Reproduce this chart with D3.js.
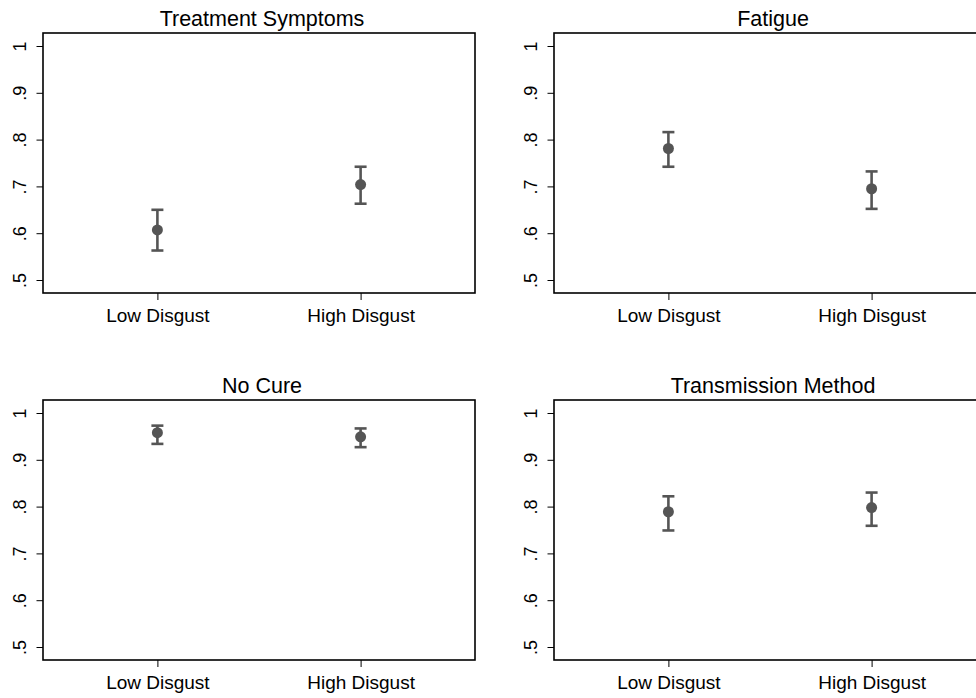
<!DOCTYPE html>
<html>
<head>
<meta charset="utf-8">
<script src="https://cdn.jsdelivr.net/npm/d3@7"></script>
<style>
  body { margin: 0; background: #fff; }
  text { font-family: "Liberation Sans", Arial, sans-serif; fill: #000; }
</style>
</head>
<body>
<div id="chart"></div>
<script>
const panels = ["Treatment Symptoms", "Fatigue", "No Cure", "Transmission Method"];
const groups = ["Low Disgust", "High Disgust"];
const means = [[0.607, 0.704], [0.781, 0.695], [0.958, 0.949], [0.789, 0.798]];
const lower = [[0.563, 0.663], [0.742, 0.652], [0.934, 0.927], [0.749, 0.759]];
const upper = [[0.650, 0.742], [0.816, 0.732], [0.973, 0.967], [0.822, 0.830]];
const yTicks = [0.5, 0.6, 0.7, 0.8, 0.9, 1];

const width = 976, height = 698;
const frameW = 432, frameH = 260;
const origins = [[43, 33], [554, 33], [43, 400], [554, 400]];
const markColor = "#555";

const svg = d3.select("#chart")
  .append("svg")
  .attr("width", width)
  .attr("height", height);

const fmt = v => v === 1 ? "1" : d3.format(".1f")(v).replace(/^0/, "");

panels.forEach((title, i) => {
  const [ox, oy] = origins[i];
  const g = svg.append("g").attr("transform", `translate(${ox},${oy})`);

  const x = d3.scalePoint()
    .domain(groups)
    .range([0, frameW])
    .padding(0.563);

  const y = d3.scaleLinear()
    .domain([0.5, 1])
    .range([247, 13]);

  // frame
  g.append("rect")
    .attr("width", frameW)
    .attr("height", frameH)
    .attr("fill", "none")
    .attr("stroke", "#000")
    .attr("stroke-width", 1.6);

  // y axis, labels turned to read upward
  const yAxis = g.append("g")
    .call(d3.axisLeft(y).tickValues(yTicks).tickFormat(fmt).tickSize(6.5).tickSizeOuter(0));
  yAxis.select(".domain").remove();
  yAxis.selectAll("line").attr("stroke", "#000");
  yAxis.selectAll(".tick text")
    .attr("font-size", 18)
    .attr("x", 0)
    .attr("y", 0)
    .attr("dy", 0)
    .attr("text-anchor", "middle")
    .attr("transform", "translate(-17,0) rotate(-90)");

  // x axis
  const xAxis = g.append("g")
    .attr("transform", `translate(0,${frameH})`)
    .call(d3.axisBottom(x).tickSize(7).tickSizeOuter(0));
  xAxis.select(".domain").remove();
  xAxis.selectAll("line").attr("stroke", "#000");
  xAxis.selectAll("text")
    .attr("font-size", 19)
    .attr("y", 0)
    .attr("dy", 29);

  // title
  g.append("text")
    .attr("x", frameW / 2 + 3)
    .attr("y", -7)
    .attr("text-anchor", "middle")
    .attr("font-size", 21.5)
    .text(title);

  // error bars and points
  groups.forEach((grp, j) => {
    const cx = x(grp);
    const bar = g.append("g")
      .attr("stroke", markColor)
      .attr("stroke-width", 2.6);
    bar.append("line")
      .attr("x1", cx).attr("x2", cx)
      .attr("y1", y(lower[i][j])).attr("y2", y(upper[i][j]));
    bar.selectAll(".cap")
      .data([lower[i][j], upper[i][j]])
      .join("line")
      .attr("class", "cap")
      .attr("x1", cx - 6).attr("x2", cx + 6)
      .attr("y1", d => y(d)).attr("y2", d => y(d));
    g.append("circle")
      .attr("cx", cx)
      .attr("cy", y(means[i][j]))
      .attr("r", 5.5)
      .attr("fill", markColor);
  });
});
</script>
</body>
</html>
